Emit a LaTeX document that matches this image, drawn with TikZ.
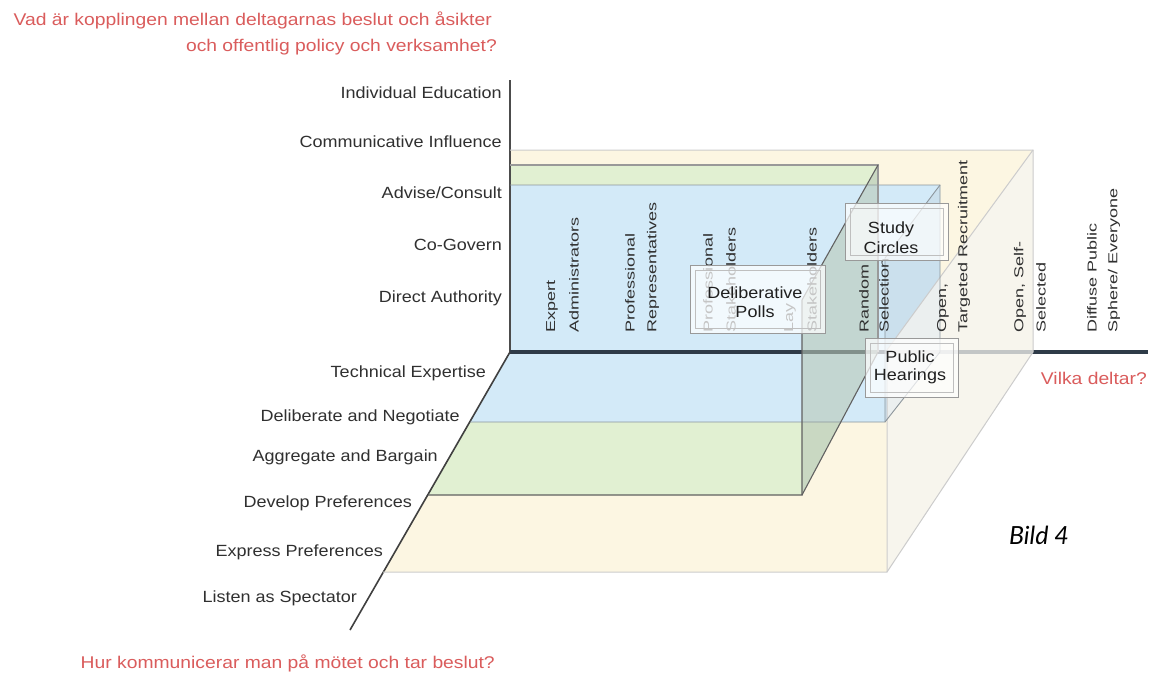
\documentclass[tikz,border=0pt]{standalone}
\usepackage{fontspec}
\setmainfont{Liberation Sans}
\newfontfamily\bildfont{Lato}
\usepackage{graphicx}
\definecolor{yfillc}{HTML}{FCF6E2}
\definecolor{gfillc}{HTML}{E1F0D2}
\definecolor{bfillc}{HTML}{D3EAF8}
\definecolor{gsidec}{HTML}{B9C9B8}
\definecolor{bsidec}{HTML}{C2D6E0}
\definecolor{ysidec}{HTML}{F6F5F1}
\definecolor{axisc}{HTML}{2E3B48}
\definecolor{redc}{HTML}{DA5C5C}
\definecolor{txtc}{HTML}{303030}
\newcommand\mylab[1]{\scalebox{1}[0.9]{\fontsize{18}{18}\selectfont #1}}
\newcommand\myvlab[1]{\scalebox{1}[0.72]{\fontsize{18}{18}\selectfont #1}}
\newcommand\myred[1]{\scalebox{1}[0.88]{\fontsize{19.3}{19.3}\selectfont #1}}
\begin{document}
\begin{tikzpicture}[x=1pt,y=-1pt,
  yedge/.style={draw=black!20,line width=1pt},
  gedge/.style={draw=black!62,line width=1.1pt},
  bedge/.style={draw=black!30!bfillc!60!gray,line width=0.9pt},
  axlab/.style={anchor=east,inner sep=0pt,text=txtc},
  vlab/.style={rotate=90,anchor=west,inner sep=0pt,text=txtc},
  redlab/.style={inner sep=0pt,text=redc},
  mpbox/.style={fill=white,fill opacity=0.72,draw=black!40,line width=0.8pt},
  mptext/.style={align=center,inner sep=0pt,text=black!88}]
\useasboundingbox (0,0) rectangle (1157,675);
\fill[white] (0,0) rectangle (1157,675);
% key points
\coordinate (O) at (510,352);
\coordinate (Vtop) at (510,80);
\coordinate (Hend) at (1148,352);
\coordinate (Dend) at (350,630);
% yellow box
\coordinate (YbTL) at (510,150); \coordinate (YbTR) at (1033,150);
\coordinate (YbBR) at (1033,352); \coordinate (YfTR) at (887,350);
\coordinate (YfBR) at (887,572); \coordinate (YfBL) at (383,572);
% green box
\coordinate (GbTL) at (510,165); \coordinate (GbTR) at (878,165);
\coordinate (GbBR) at (878,352); \coordinate (GfTR) at (802,300);
\coordinate (GfBR) at (802,495); \coordinate (GfBL) at (428,495);
% blue box
\coordinate (BbTL) at (510,185); \coordinate (BbTR) at (940,185);
\coordinate (BbBR) at (940,352); \coordinate (BfTR) at (885,258);
\coordinate (BfBR) at (885,422); \coordinate (BfBL) at (470,422);
% fills (back wall + floor)
\fill[yfillc] (YbTL) -- (YbTR) -- (YbBR) -- (YfBR) -- (YfBL) -- (O) -- cycle;
\fill[gfillc] (GbTL) -- (GbTR) -- (GbBR) -- (GfBR) -- (GfBL) -- (O) -- cycle;
\fill[bfillc] (BbTL) -- (BbTR) -- (BbBR) -- (BfBR) -- (BfBL) -- (O) -- cycle;
% axes
\draw[black!70,line width=1.8pt] (O) -- (Vtop);
\draw[axisc,line width=4pt] (O) -- (Hend);
\draw[black!75,line width=1.6pt] (O) -- (Dend);
% side faces
\fill[bsidec,fill opacity=0.45] (BbTR) -- (BbBR) -- (BfBR) -- (BfTR) -- cycle;
\fill[gsidec,fill opacity=0.6] (GbTR) -- (GbBR) -- (GfBR) -- (GfTR) -- cycle;
\fill[ysidec,fill opacity=0.75] (YbTR) -- (YbBR) -- (YfBR) -- (YfTR) -- cycle;
% edges
\draw[yedge] (YbTL) -- (YbTR) -- (YbBR) -- (YfBR) -- (YfBL);
\draw[yedge] (YbTR) -- (YfTR) -- (YfBR);
\draw[bedge] (BbTL) -- (BbTR) -- (BbBR) -- (BfBR) -- (BfBL);
\draw[bedge] (BbTR) -- (BfTR) -- (BfBR);
\draw[gedge,draw=black!40] (GbTL) -- (GbTR) -- (GbBR);
\draw[gedge] (GbTR) -- (GfTR) -- (GfBR) -- (GfBL);
\draw[gedge] (GbBR) -- (GfBR);
% participant labels (rotated)
\node[vlab] (p1a) at (552,333) {\myvlab{Expert}};
\node[vlab] (p1b) at (574,333) {\myvlab{Administrators}};
\node[vlab] (p2a) at (630,333) {\myvlab{Professional}};
\node[vlab] (p2b) at (653,333) {\myvlab{Representatives}};
\node[vlab] (p3a) at (708,333) {\myvlab{Professional}};
\node[vlab] (p3b) at (731,333) {\myvlab{Stakeholders}};
\node[vlab] (p4a) at (790,333) {\myvlab{Lay}};
\node[vlab] (p4b) at (812,333) {\myvlab{Stakeholders}};
\node[vlab] (p5a) at (864,333) {\myvlab{Random}};
\node[vlab] (p5b) at (884,333) {\myvlab{Selection}};
\node[vlab] (p6a) at (943,333) {\myvlab{Open,}};
\node[vlab] (p6b) at (964,333) {\myvlab{Targeted Recruitment}};
\node[vlab] (p7a) at (1020,333) {\myvlab{Open, Self-}};
\node[vlab] (p7b) at (1041,333) {\myvlab{Selected}};
\node[vlab] (p8a) at (1092,333) {\myvlab{Diffuse Public}};
\node[vlab] (p8b) at (1114,333) {\myvlab{Sphere/ Everyone}};
% mini-public boxes
\draw[mpbox] (690,265) rectangle (825,333);
\draw[black!25,line width=0.6pt] (695,270) rectangle (820,328);
\node[mptext] (dp) at (755,302) {\mylab{Deliberative}\\[7pt]\mylab{Polls}};
\draw[mpbox] (845,203) rectangle (948,260);
\draw[black!25,line width=0.6pt] (850,208) rectangle (943,255);
\node[mptext] (sc) at (891,238) {\mylab{Study}\\[4pt]\mylab{Circles}};
\draw[mpbox] (865,338) rectangle (958,397);
\draw[black!25,line width=0.6pt] (870,343) rectangle (953,392);
\node[mptext] (ph) at (910,367) {\mylab{Public}\\[6pt]\mylab{Hearings}};
% authority labels
\node[axlab] (a1) at (502,93) {\mylab{Individual Education}};
\node[axlab] (a2) at (502,142) {\mylab{Communicative Influence}};
\node[axlab] (a3) at (502,193) {\mylab{Advise/Consult}};
\node[axlab] (a4) at (502,245) {\mylab{Co-Govern}};
\node[axlab] (a5) at (502,298) {\mylab{Direct Authority}};
% communication labels
\node[axlab] (c1) at (486,373) {\mylab{Technical Expertise}};
\node[axlab] (c2) at (460,417) {\mylab{Deliberate and Negotiate}};
\node[axlab] (c3) at (438,457) {\mylab{Aggregate and Bargain}};
\node[axlab] (c4) at (412,503) {\mylab{Develop Preferences}};
\node[axlab] (c5) at (383,552) {\mylab{Express Preferences}};
\node[axlab] (c6) at (357,598) {\mylab{Listen as Spectator}};
% questions
\node[redlab,anchor=east] (q1a) at (492,20) {\myred{Vad är kopplingen mellan deltagarnas beslut och åsikter}};
\node[redlab,anchor=east] (q1b) at (497,47) {\myred{och offentlig policy och verksamhet?}};
\node[redlab,anchor=east] (q2) at (1147,378) {\myred{Vilka deltar?}};
\node[redlab,anchor=east] (q3) at (495,663) {\myred{Hur kommunicerar man på mötet och tar beslut?}};
% caption
\node[inner sep=0pt] (bild) at (1039,535) {\fontsize{25}{25}\selectfont\bildfont\itshape Bild 4};
\end{tikzpicture}
\end{document}
